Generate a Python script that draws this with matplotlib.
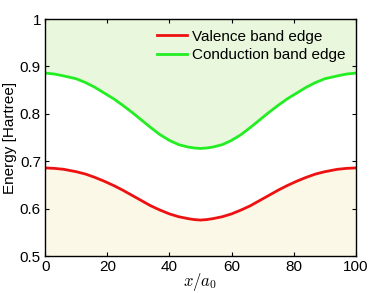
import numpy as np
import matplotlib
matplotlib.use("Agg")
import matplotlib.pyplot as plt

x_half = [0, 3, 6, 10, 13, 16, 19, 22, 25, 28, 31, 34, 37, 40, 43, 46, 48, 50]
conduction_half = [0.886, 0.884, 0.880, 0.874, 0.866, 0.856, 0.844, 0.832, 0.818,
                   0.803, 0.787, 0.771, 0.756, 0.744, 0.735, 0.730, 0.728, 0.727]
valence_half = [0.686, 0.685, 0.683, 0.678, 0.673, 0.666, 0.658, 0.649, 0.639,
                0.628, 0.617, 0.606, 0.597, 0.589, 0.583, 0.579, 0.577, 0.576]

x = np.array(x_half + [100 - v for v in x_half[-2::-1]], dtype=float)
cond = np.array(conduction_half + conduction_half[-2::-1])
val = np.array(valence_half + valence_half[-2::-1])

plt.rcParams['font.family'] = ['Liberation Sans', 'DejaVu Sans']
plt.rcParams['mathtext.fontset'] = 'cm'

fig = plt.figure(figsize=(3.73, 2.93), dpi=100)
ax = fig.add_axes([0.121, 0.126, 0.833, 0.809])

ax.fill_between(x, cond, 1.0, color='#e9f7dd', lw=0)
ax.fill_between(x, 0.5, val, color='#fcf8e7', lw=0)
ax.plot(x, val, color='#ee1111', lw=2, label='Valence band edge', solid_joinstyle='round')
ax.plot(x, cond, color='#22ee22', lw=2, label='Conduction band edge', solid_joinstyle='round')

ax.set_xlim(0, 100)
ax.set_ylim(0.5, 1.0)
ax.set_xticks([0, 20, 40, 60, 80, 100])
ax.set_yticks([0.5, 0.6, 0.7, 0.8, 0.9, 1.0])
ax.set_yticklabels(['0.5', '0.6', '0.7', '0.8', '0.9', '1'])
ax.tick_params(direction='in', top=True, right=True, labelsize=11, length=3, pad=3)
for s in ax.spines.values():
    s.set_linewidth(1.0)
ax.set_xlabel('$x/a_0$', fontsize=12, labelpad=-2)
ax.set_ylabel('Energy [Hartree]', fontsize=11, labelpad=2)
ax.legend(loc='upper right', frameon=False, fontsize=11, handlelength=2.0,
          handletextpad=0.3, labelspacing=0.3, borderaxespad=0.3)

fig.savefig('out.png', dpi=100)
